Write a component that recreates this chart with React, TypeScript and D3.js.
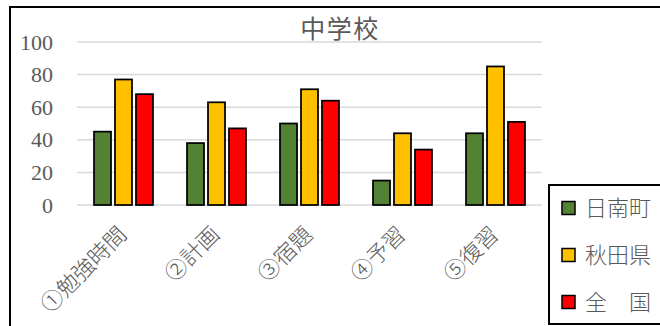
import React from "react";
import * as d3 from "d3";

// Survey results by item (percent)
const categories = ["①勉強時間", "②計画", "③宿題", "④予習", "⑤復習"];
const seriesNames = ["日南町", "秋田県", "全　国"];
const hinanValues = [45, 38, 50, 15, 44];
const akitaValues = [77, 63, 71, 44, 85];
const zenkokuValues = [68, 47, 64, 34, 51];
const seriesColors = ["#548235", "#FFC000", "#FF0000"];
const yTicks = [0, 20, 40, 60, 80, 100];
const title = "中学校";

const W = 660;
const H = 326;

export default function App() {
  const values = [hinanValues, akitaValues, zenkokuValues];

  const x0 = d3
    .scaleBand<string>()
    .domain(categories)
    .range([77, 542])
    .paddingInner(0.366)
    .paddingOuter(0.183);

  const x1 = d3
    .scaleBand<string>()
    .domain(seriesNames)
    .range([0, x0.bandwidth()])
    .paddingInner(0.19);

  const y = d3.scaleLinear().domain([0, 100]).range([205, 42]);

  const gray = "#595959";
  const cjk = "'Noto Sans CJK JP', 'Noto Sans', sans-serif";

  return (
    <svg
      width={W}
      height={H}
      style={{ position: "fixed", left: 0, top: 0, background: "#fff" }}
    >
      {/* chart frame */}
      <rect x={10} y={7} width={700} height={400} fill="#fff" stroke="#000" strokeWidth={2} />

      {/* title */}
      <text
        x={340}
        y={38}
        textAnchor="middle"
        fontFamily={cjk}
        fontSize={25}
        letterSpacing={1.5}
        fill={gray}
      >
        {title}
      </text>

      {/* gridlines */}
      {yTicks.map((t) => (
        <line
          key={"g" + t}
          x1={77}
          x2={542}
          y1={y(t)}
          y2={y(t)}
          stroke="#d9d9d9"
          strokeWidth={1.5}
        />
      ))}

      {/* y tick labels */}
      {yTicks.map((t) => (
        <text
          key={"t" + t}
          x={53}
          y={y(t) + 7.5}
          textAnchor="end"
          fontFamily="'Liberation Serif', 'DejaVu Serif', serif"
          fontSize={22}
          fill={gray}
        >
          {t}
        </text>
      ))}

      {/* bars */}
      {categories.map((c, ci) => (
        <g key={c} transform={`translate(${x0(c)},0)`}>
          {seriesNames.map((s, si) => {
            const v = values[si][ci];
            return (
              <rect
                key={s}
                x={x1(s)}
                y={y(v)}
                width={x1.bandwidth()}
                height={y(0) - y(v)}
                fill={seriesColors[si]}
                stroke="#000"
                strokeWidth={1.75}
              />
            );
          })}
        </g>
      ))}

      {/* category labels */}
      {categories.map((c) => {
        const cx = (x0(c) as number) + x0.bandwidth() / 2;
        return (
          <text
            key={"c" + c}
            transform={`translate(${cx + 4.5},236) rotate(-45)`}
            textAnchor="end"
            fontFamily={cjk}
            fontWeight={300}
            fontSize={22}
            fill={gray}
          >
            {c}
          </text>
        );
      })}

      {/* legend */}
      <rect x={549} y={185} width={130} height={139} fill="#fff" stroke="#000" strokeWidth={2} />
      {seriesNames.map((s, si) => {
        const cy = 208 + si * 47;
        return (
          <g key={"l" + s}>
            <rect
              x={562}
              y={cy - 6.5}
              width={13}
              height={13}
              fill={seriesColors[si]}
              stroke="#000"
              strokeWidth={1.5}
            />
            <text
              x={585}
              y={cy + 8}
              fontFamily={cjk}
              fontWeight={300}
              fontSize={22}
              fill={gray}
            >
              {s}
            </text>
          </g>
        );
      })}
    </svg>
  );
}
